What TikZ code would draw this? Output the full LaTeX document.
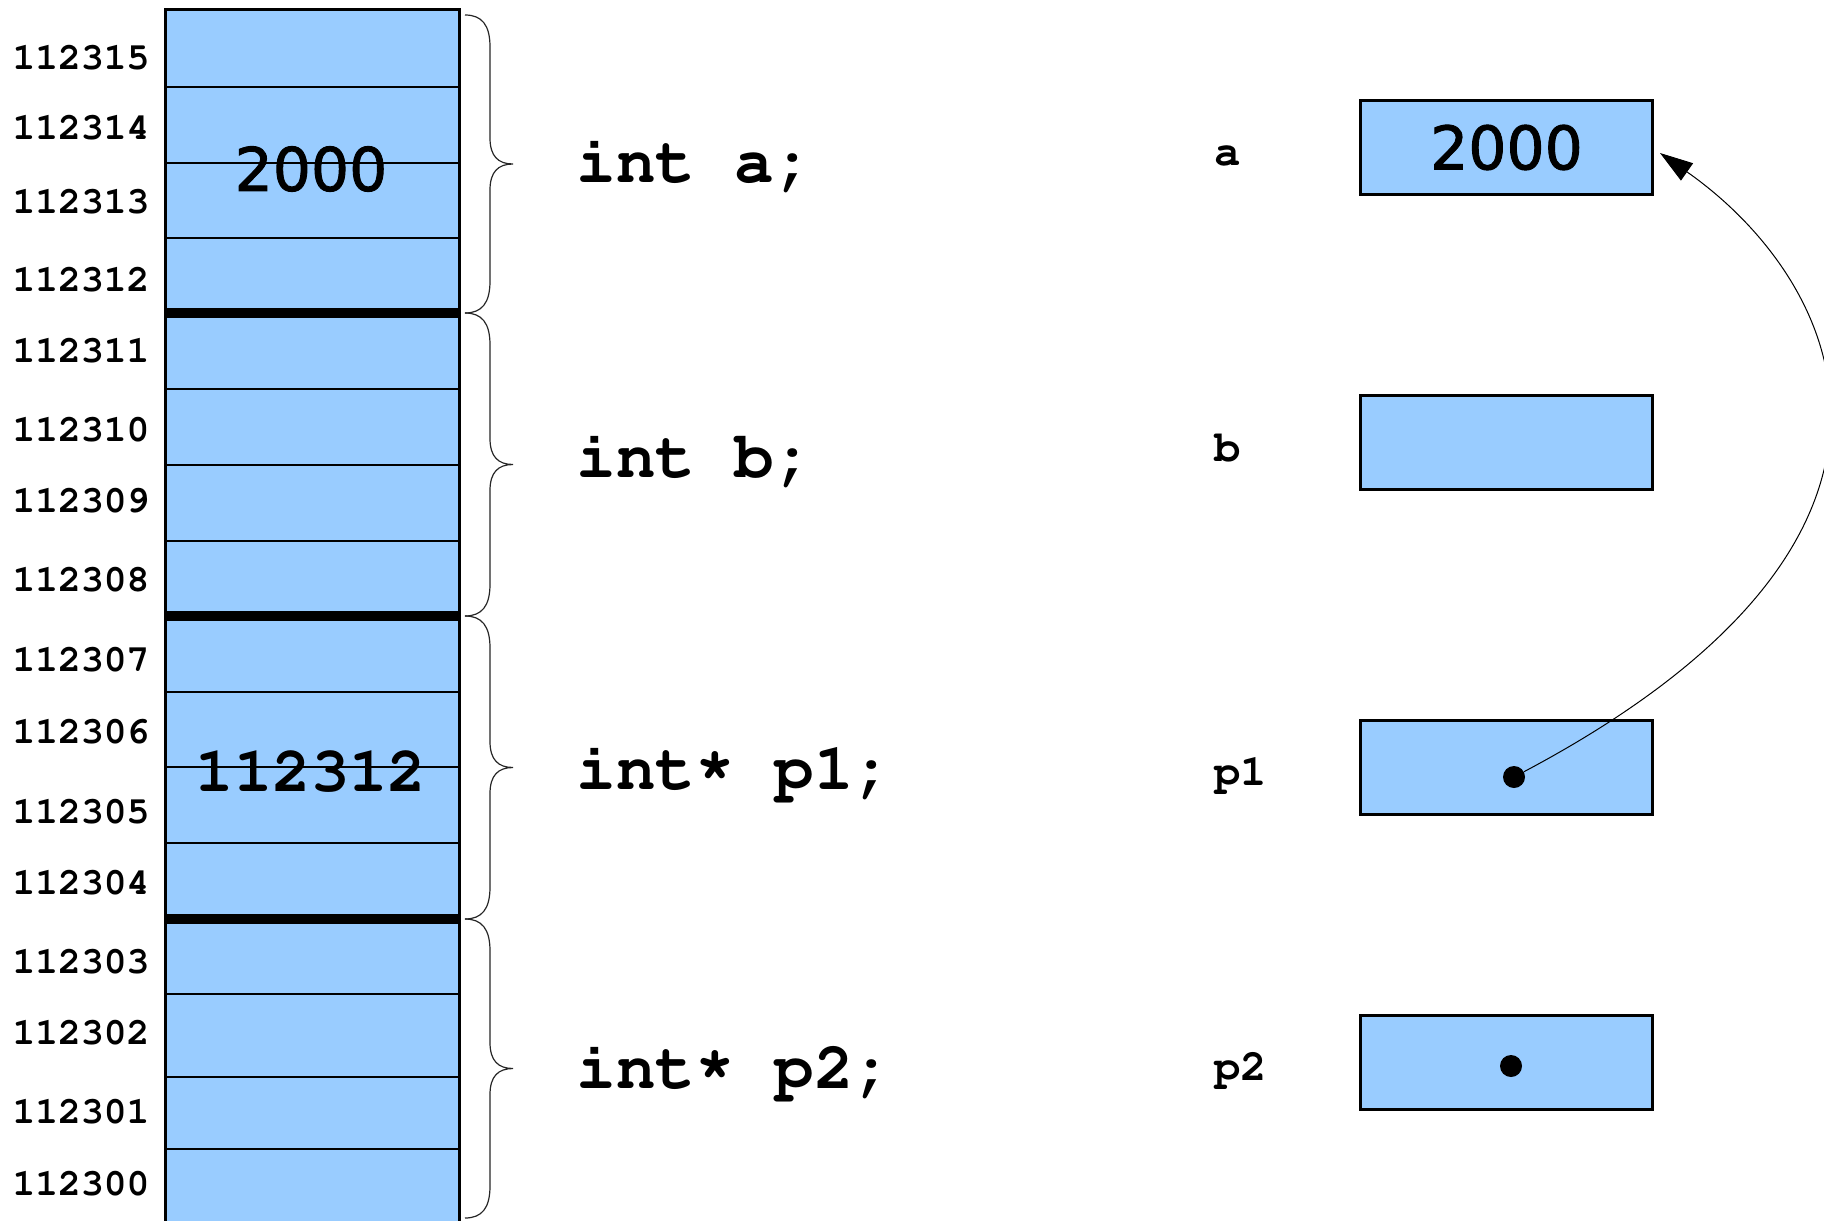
\documentclass[tikz,border=0pt]{standalone}
\usepackage[T1]{fontenc}
\usepackage{fontspec}
\setmainfont{Liberation Serif}
\newfontfamily\valfont{DejaVu Sans}[FakeBold=1.5]
\newcommand\codefont{\fontencoding{T1}\fontfamily{pcr}\fontseries{b}\selectfont}
\newcommand\ptrstar{\raisebox{0.1em}{*}}
\usetikzlibrary{arrows.meta}
\definecolor{cellblue}{RGB}{153,204,255}

\tikzset{
  addr/.style={font=\fontsize{19}{19}\codefont, anchor=base, inner sep=0pt},
  decl/.style={font=\fontsize{33}{33}\codefont, anchor=base west, inner sep=0pt},
  varname/.style={font=\fontsize{22}{22}\codefont, anchor=base west, inner sep=0pt},
  cellval/.style={font=\valfont\fontsize{30}{30}\selectfont, inner sep=0pt},
  celladdr/.style={font=\fontsize{32}{32}\codefont, inner sep=0pt},
  varbox/.style={draw, line width=1.5pt, fill=cellblue, minimum width=146pt, minimum height=47pt, inner sep=0pt},
  ptrdot/.style={circle, fill=black, minimum size=11pt, inner sep=0pt},
  bracepen/.style={line width=0.6pt, draw=black!85},
  rowline/.style={line width=0.75pt},
  groupline/.style={line width=5pt},
}

\begin{document}
\begin{tikzpicture}[x=0.5pt,y=-0.5pt]
  \useasboundingbox (0,0) rectangle (1824,1220);

  % memory column
  \draw[line width=1.5pt, fill=cellblue] (165,9.5) rectangle (459.5,1240);
  \foreach \y in {87,163,238,389,465,541,692,767,843,994,1077,1149}
    \draw[rowline] (165,\y) -- (459.5,\y);
  \foreach \y in {313,616,919}
    \draw[groupline] (165,\y) -- (459.5,\y);

  % addresses
  \foreach \a/\yb in {112315/70,112314/140,112313/213,112312/291,
                      112311/362,112310/441,112309/512,112308/591,
                      112307/671,112306/743,112305/823,112304/894,
                      112303/973,112302/1044,112301/1123,112300/1195}
    \node[addr] (ad\a) at (81,\yb) {\a};

  % stored values
  \node[cellval]  (va) at (311,169) {2000};
  \node[celladdr] (vp) at (311,772) {112312};

  % braces grouping the bytes of each variable
  \foreach \ya/\yb in {15/313,313/616,616/919,919/1218}{
    \pgfmathsetmacro\ym{(\ya+\yb)/2}
    \draw[bracepen] (465,\ya) .. controls (482,\ya) and (490,{\ya+10}) .. (490,{\ya+32})
      -- (490,{\ym-26}) .. controls (490,{\ym-8}) and (498,\ym) .. (513,\ym)
      .. controls (498,\ym) and (490,{\ym+8}) .. (490,{\ym+26})
      -- (490,{\yb-32}) .. controls (490,{\yb-10}) and (482,\yb) .. (465,\yb);
  }

  % declarations
  \node[decl] (da)  at (576,182) {int a;};
  \node[decl] (db)  at (576,477) {int b;};
  \node[decl] (dp1) at (576,789) {int\ptrstar{} p1;};
  \node[decl] (dp2) at (576,1088) {int\ptrstar{} p2;};

  % variable boxes
  \node[varname] (na)  at (1214,165)  {a};
  \node[varname] (nb)  at (1214,461)  {b};
  \node[varname] (np1) at (1214,785)  {p1};
  \node[varname] (np2) at (1214,1080) {p2};

  \node[varbox] (ba)  at (1506.5,147.5)  {\valfont\fontsize{30}{30}\selectfont 2000};
  \node[varbox] (bb)  at (1506.5,442.5)  {};
  \node[varbox] (bp1) at (1506.5,767.5)  {};
  \node[varbox] (bp2) at (1506.5,1062.5) {};

  \node[ptrdot] (d1) at (1514,777) {};
  \node[ptrdot] (d2) at (1511,1066) {};

  % pointer p1 -> a
  \coordinate (atip) at (1660,153);
  \draw[line width=0.5pt, -{Triangle[length=16.5pt,width=10.5pt]}]
    (d1) .. controls (1974,533) and (1837,277) .. (atip);
\end{tikzpicture}
\end{document}
